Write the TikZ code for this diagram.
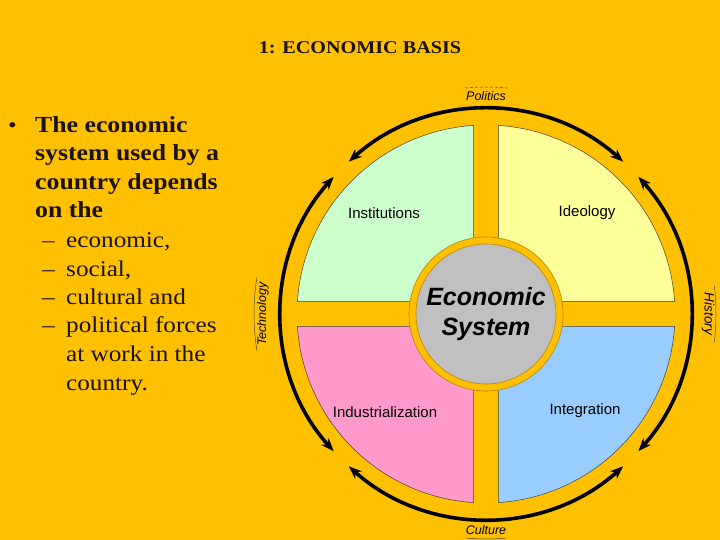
\documentclass[tikz,border=0pt]{standalone}
\usepackage{fontspec}
\setmainfont{Liberation Serif}[FakeStretch=1.12]
\newfontfamily\arial{Liberation Sans}
\usetikzlibrary{arrows.meta}
\definecolor{bg}{HTML}{FFC000}
\definecolor{sgreen}{HTML}{CCFFCC}
\definecolor{syellow}{HTML}{FFFF99}
\definecolor{spink}{HTML}{FF99CC}
\definecolor{sblue}{HTML}{99CCFF}
\definecolor{sgray}{HTML}{C0C0C0}
\definecolor{rimline}{HTML}{B88400}
\definecolor{ink}{HTML}{1A1208}
\tikzset{
  sector/.style={draw=black!75, line width=0.5pt},
  ring/.style={line width=3.6pt, black, {Stealth[length=13pt,width=10pt]}-{Stealth[length=13pt,width=10pt]}},
  deco/.style={line width=0.5pt, black!70},
  qlabel/.style={font=\arial\fontsize{15}{18}\selectfont, inner sep=0pt},
  olabel/.style={font=\arial\itshape\fontsize{12.5}{15}\selectfont, inner sep=0pt},
  mainline/.style={anchor=base west, inner sep=0pt, text=ink, font=\bfseries\fontsize{23}{28}\selectfont},
  subline/.style={anchor=base west, inner sep=0pt, text=ink, font=\fontsize{22.5}{28}\selectfont},
}
\begin{document}
\begin{tikzpicture}[x=1pt,y=1pt]
\fill[bg] (0,0) rectangle (720,540);
\useasboundingbox (0,0) rectangle (720,540);
\coordinate (C) at (486,226);

% title
\node[inner sep=0pt, text=ink, font=\bfseries\fontsize{18}{22}\selectfont] (title) at (360,492) {1: ECONOMIC BASIS};

% bullet text
\node[anchor=base west, inner sep=0pt, text=ink, font=\fontsize{22}{28}\selectfont] (bul) at (8,407) {•};
\node[mainline] (m1) at (35,407) {The economic};
\node[mainline] (m2) at (35,379) {system used by a};
\node[mainline] (m3) at (35,350) {country depends};
\node[mainline] (m4) at (35,322) {on the};
\node[subline] (d1) at (42,292) {–};
\node[subline] (d2) at (42,263) {–};
\node[subline] (d3) at (42,235) {–};
\node[subline] (d4) at (42,207) {–};
\node[subline] (s1) at (66,292) {economic,};
\node[subline] (s2) at (66,263) {social,};
\node[subline] (s3) at (66,235) {cultural and};
\node[subline] (s4) at (66,207) {political forces};
\node[subline] (s5) at (66,178) {at work in the};
\node[subline] (s6) at (66,149) {country.};

% sectors
\filldraw[sector, fill=syellow] ([shift={(12.5,12.5)}]C) -- ([shift={(188.59,12.5)}]C) arc[start angle=3.79, end angle=86.21, radius=189] -- cycle;
\filldraw[sector, fill=sgreen] ([shift={(-12.5,12.5)}]C) -- ([shift={(-12.5,188.59)}]C) arc[start angle=93.79, end angle=176.21, radius=189] -- cycle;
\filldraw[sector, fill=spink] ([shift={(-12.5,-12.5)}]C) -- ([shift={(-188.59,-12.5)}]C) arc[start angle=183.79, end angle=266.21, radius=189] -- cycle;
\filldraw[sector, fill=sblue] ([shift={(12.5,-12.5)}]C) -- ([shift={(12.5,-188.59)}]C) arc[start angle=273.79, end angle=356.21, radius=189] -- cycle;

% sector labels
\node[qlabel] (inst) at (384,327) {Institutions};
\node[qlabel] (ideo) at (587,327) {Ideology};
\node[qlabel] (indu) at (385,128) {Industrialization};
\node[qlabel] (inte) at (585,129) {Integration};

% centre
\node[circle, fill=bg, draw=rimline, line width=0.6pt, minimum size=154pt, inner sep=0pt] (rim) at (C) {};
\node[circle, fill=sgray, draw=rimline, line width=0.6pt, minimum size=140pt, inner sep=0pt, align=center,
      font=\arial\bfseries\itshape\fontsize{25}{30}\selectfont] (eco) at (C) {Economic\\System};

% outer ring with arrows
\coordinate (t0) at ([shift={(48:205)}]C);
\coordinate (l0) at ([shift={(138:205)}]C);
\coordinate (b0) at ([shift={(228:205)}]C);
\coordinate (r0) at ([shift={(318:205)}]C);
\draw[ring] (t0) arc[start angle=48, end angle=132, radius=205];
\draw[ring] (l0) arc[start angle=138, end angle=222, radius=205];
\draw[ring] (b0) arc[start angle=228, end angle=312, radius=205];
\draw[ring] (r0) arc[start angle=318, end angle=402, radius=205];

% outer labels
\node[olabel] (pol) at ([shift={(90:218)}]C) {Politics};
\node[olabel] (cul) at ([shift={(270:216)}]C) {Culture};
\node[olabel, rotate=90] (tec) at ([shift={(180:223)}]C) {Technology};
\node[olabel, rotate=-90, font=\arial\itshape\fontsize{13.5}{16}\selectfont] (his) at ([shift={(0:222)}]C) {History};

% decorative thin arcs
\coordinate (pa) at ([shift={(84.5:227)}]C);
\draw[deco, dash pattern=on 3pt off 2pt] (pa) arc[start angle=84.5, end angle=95.5, radius=227];
\coordinate (ca) at ([shift={(265:225)}]C);
\draw[deco] (ca) arc[start angle=265, end angle=275, radius=225];
\coordinate (ta) at ([shift={(171:232)}]C);
\draw[deco] (ta) arc[start angle=171, end angle=189, radius=232];
\coordinate (ha) at ([shift={(-7:230)}]C);
\draw[deco] (ha) arc[start angle=-7, end angle=7, radius=230];
\end{tikzpicture}
\end{document}
